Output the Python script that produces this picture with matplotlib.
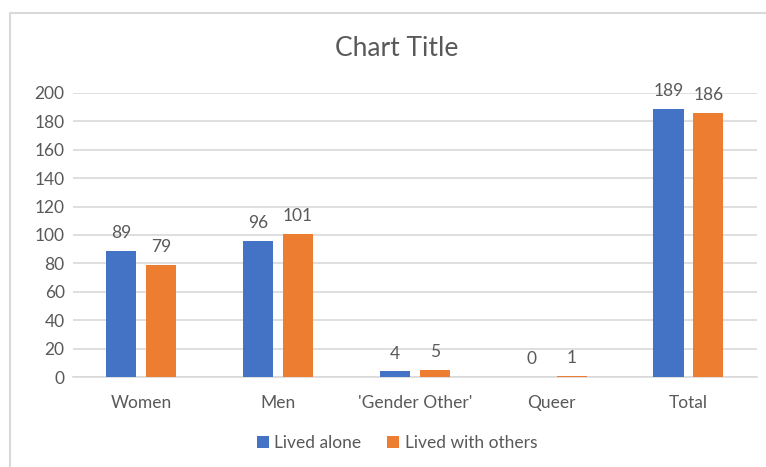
import matplotlib.pyplot as plt
import numpy as np
from matplotlib.lines import Line2D

categories = ['Women', 'Men', "'Gender Other'", 'Queer', 'Total']
lived_alone = [89, 96, 4, 0, 189]
lived_with_others = [79, 101, 5, 1, 186]

blue = '#4472C4'
orange = '#ED7D31'
text_grey = '#595959'
grid_grey = '#D9D9D9'

plt.rcParams['font.family'] = ['Lato', 'DejaVu Sans']

fig = plt.figure(figsize=(7.66, 4.67), dpi=100)
ax = fig.add_axes([0.0953, 0.1927, 0.988 - 0.0953, 0.8009 - 0.1927])

x = np.arange(len(categories))
w = 0.22
off = 0.146
b1 = ax.bar(x - off, lived_alone, w, color=blue, label='Lived alone', zorder=3)
b2 = ax.bar(x + off, lived_with_others, w, color=orange, label='Lived with others', zorder=3)

# value labels above every bar
for bars, vals in ((b1, lived_alone), (b2, lived_with_others)):
    for rect, v in zip(bars, vals):
        ax.annotate(str(v), (rect.get_x() + rect.get_width() / 2, v),
                    xytext=(0, 7), textcoords='offset points',
                    ha='center', va='bottom', fontsize=12.5, color=text_grey,
                    annotation_clip=False)

ax.set_xlim(-0.5, len(categories) - 0.5)
ax.set_ylim(0, 200)
ax.set_yticks(range(0, 201, 20))
ax.set_xticks(x)
ax.set_xticklabels(categories)
ax.yaxis.grid(True, color=grid_grey, linewidth=1.2, zorder=0)
ax.tick_params(axis='both', length=0, labelsize=12.5, labelcolor=text_grey)
ax.tick_params(axis='x', pad=13)
ax.tick_params(axis='y', pad=6)
for s in ('top', 'right', 'left'):
    ax.spines[s].set_visible(False)
ax.spines['bottom'].set_color(grid_grey)
ax.spines['bottom'].set_linewidth(1.2)

fig.text(397 / 766, 1 - 48 / 467, 'Chart Title', ha='center', va='center',
         fontsize=19, color=text_grey)

fig.legend(handles=[b1, b2], loc='center', bbox_to_anchor=(397 / 766, 1 - 443 / 467),
           ncol=2, frameon=False, fontsize=12.5, labelcolor=text_grey,
           handlelength=0.7, handleheight=0.7, handletextpad=0.3, columnspacing=1.5)

# chart area border
fx = 10 / 766
fy = 1 - 13 / 467
fig.add_artist(Line2D([fx, fx, 1], [0, fy, fy], transform=fig.transFigure,
                      color=grid_grey, linewidth=1.5))

fig.savefig('out.png', dpi=100)
